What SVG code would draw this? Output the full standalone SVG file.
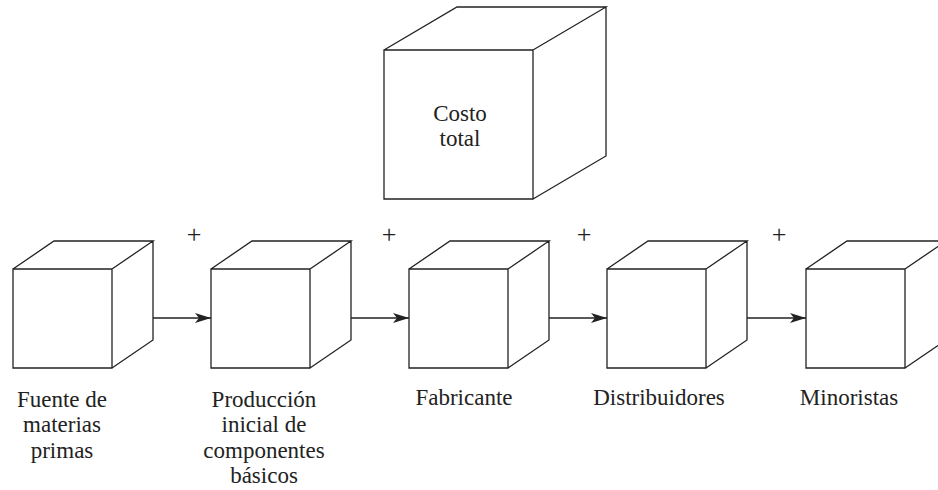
<svg xmlns="http://www.w3.org/2000/svg" width="938" height="490" viewBox="0 0 938 490">
<style>
.cube{fill:#fff;stroke:#222;stroke-width:1.3;stroke-linejoin:miter}
.lbl{font-family:"Liberation Serif","Times New Roman",serif;font-size:23px;fill:#222;text-anchor:middle}
.plus{font-family:"Liberation Serif","Times New Roman",serif;font-size:26px;fill:#222;text-anchor:middle}
.conn{stroke:#222;stroke-width:1.3;fill:none}
</style>
<defs>
<marker id="ah" markerUnits="userSpaceOnUse" markerWidth="18" markerHeight="12" refX="16" refY="5" orient="auto" viewBox="0 0 18 12">
<path d="M0,0 L16,5 L0,10 L4,5 Z" fill="#222"/>
</marker>
</defs>
<rect width="938" height="490" fill="#fff"/>
<g id="costo-total">
<path class="cube" d="M384,50 H533 V199 H384 Z M384,50 L457,7 H606 L533,50 M606,7 V156 L533,199"/>
<text class="lbl" x="460" y="121">Costo</text>
<text class="lbl" x="460" y="146">total</text>
</g>
<g id="fuente">
<path class="cube" d="M13,269 H112 V368 H13 Z M13,269 L54,241 H153 L112,269 M153,241 V340 L112,368"/>
<text class="lbl" x="62" y="407">Fuente de</text>
<text class="lbl" x="62" y="432">materias</text>
<text class="lbl" x="62" y="458">primas</text>
</g>
<g id="produccion">
<path class="cube" d="M211,269 H310 V368 H211 Z M211,269 L252,241 H351 L310,269 M351,241 V340 L310,368"/>
<text class="lbl" x="264" y="407">Producción</text>
<text class="lbl" x="264" y="432">inicial de</text>
<text class="lbl" x="264" y="458">componentes</text>
<text class="lbl" x="264" y="483">básicos</text>
</g>
<g id="fabricante">
<path class="cube" d="M409,269 H508 V368 H409 Z M409,269 L450,241 H549 L508,269 M549,241 V340 L508,368"/>
<text class="lbl" x="464" y="405">Fabricante</text>
</g>
<g id="distribuidores">
<path class="cube" d="M607,269 H706 V368 H607 Z M607,269 L648,241 H747 L706,269 M747,241 V340 L706,368"/>
<text class="lbl" x="659" y="405">Distribuidores</text>
</g>
<g id="minoristas">
<path class="cube" d="M806,269 H905 V368 H806 Z M806,269 L847,241 H946 L905,269 M946,241 V340 L905,368"/>
<text class="lbl" x="849" y="405">Minoristas</text>
</g>
<g id="connectors">
<line class="conn" x1="153" y1="318" x2="211" y2="318" marker-end="url(#ah)"/>
<line class="conn" x1="351" y1="318" x2="409" y2="318" marker-end="url(#ah)"/>
<line class="conn" x1="549" y1="318" x2="607" y2="318" marker-end="url(#ah)"/>
<line class="conn" x1="747" y1="318" x2="806" y2="318" marker-end="url(#ah)"/>
<text class="plus" x="194" y="243">+</text>
<text class="plus" x="389" y="243">+</text>
<text class="plus" x="584" y="243">+</text>
<text class="plus" x="779" y="243">+</text>
</g>
</svg>
